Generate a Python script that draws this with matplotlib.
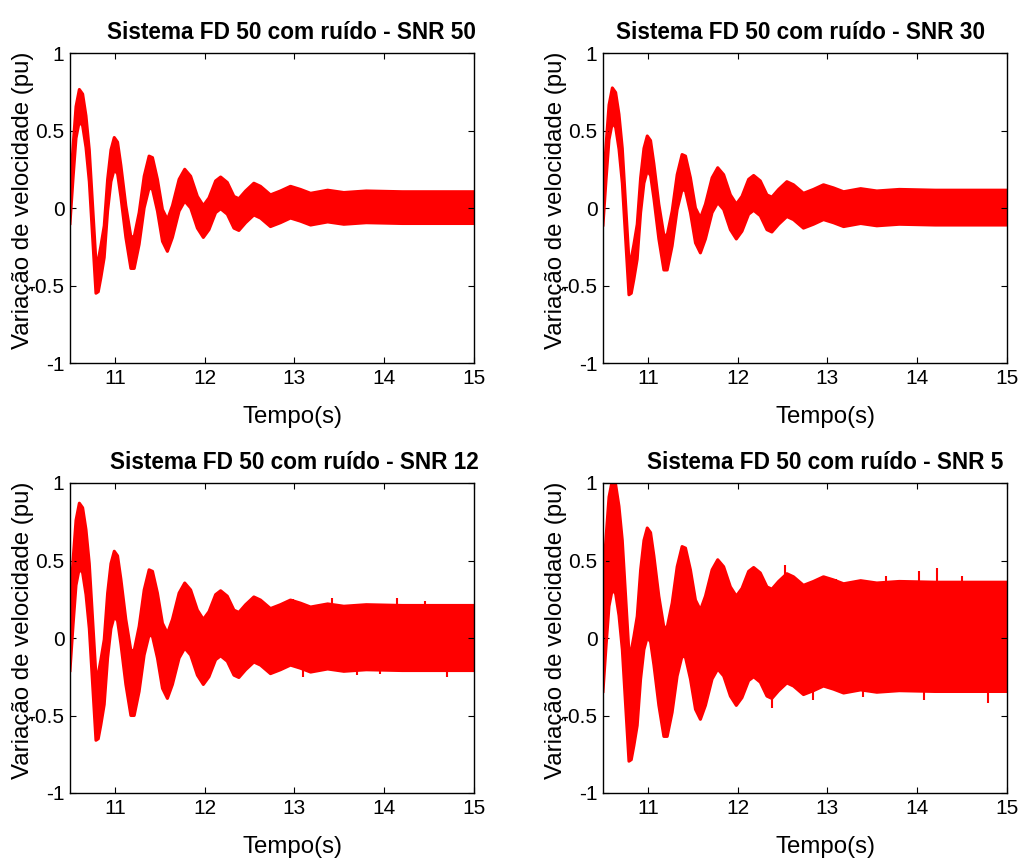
import matplotlib
matplotlib.use("Agg")
import matplotlib.pyplot as plt
import numpy as np

plt.rcParams['font.family'] = ['Liberation Sans', 'DejaVu Sans']

# slow (electromechanical) swing, centre of the red band
t_swing = [10.500, 10.535, 10.567, 10.604, 10.641, 10.678, 10.715, 10.752, 10.789, 10.815,
           10.844, 10.881, 10.919, 10.956, 10.993, 11.030, 11.067, 11.122, 11.178, 11.215,
           11.270, 11.326, 11.381, 11.419, 11.474, 11.530, 11.585, 11.641, 11.715, 11.778,
           11.844, 11.919, 11.985, 12.048, 12.122, 12.178, 12.252, 12.326, 12.381, 12.456,
           12.548, 12.622, 12.733, 12.844, 12.956, 13.067, 13.180, 13.370, 13.550, 13.800,
           14.200, 14.600, 15.000]
v_swing = [0.00, 0.30, 0.55, 0.66, 0.63, 0.49, 0.27, -0.09, -0.45, -0.44,
           -0.35, -0.22, 0.08, 0.27, 0.35, 0.32, 0.17, -0.09, -0.29, -0.29,
           -0.135, 0.10, 0.23, 0.22, 0.08, -0.115, -0.18, -0.09, 0.08, 0.145,
           0.10, -0.03, -0.09, -0.04, 0.07, 0.095, 0.06, -0.03, -0.045, 0.005,
           0.055, 0.035, -0.02, 0.005, 0.035, 0.015, -0.01, 0.01, -0.005, 0.005,
           0.0, 0.0, 0.0]

# half-height of the fast oscillation + noise band (above, below the swing) per SNR
snr_labels = ['50', '30', '12', '5']
band_up = [0.105, 0.115, 0.21, 0.36]
band_lo = [0.100, 0.110, 0.21, 0.345]

# the larger noise spikes sticking out of the band (time, value)
spike_t_snr12 = [12.98, 13.09, 13.42, 13.95, 14.14, 14.70, 14.45, 13.70]
spike_v_snr12 = [0.25, -0.25, 0.255, -0.235, 0.26, -0.25, 0.24, -0.24]
spike_t_snr5 = [12.38, 12.53, 12.84, 13.10, 13.40, 13.65, 14.02, 14.07, 14.22, 14.50, 14.79]
spike_v_snr5 = [-0.45, 0.47, -0.40, 0.38, -0.38, 0.40, 0.43, -0.40, 0.45, 0.40, -0.42]
spikes = [([], []), ([], []), (spike_t_snr12, spike_v_snr12), (spike_t_snr5, spike_v_snr5)]

x_ticks = [11, 12, 13, 14, 15]
y_ticks = [-1, -0.5, 0, 0.5, 1]
y_tick_labels = ['-1', '-0.5', '0', '0.5', '1']

fig = plt.figure(figsize=(10.22, 8.59), dpi=100)
W, H = 1022, 859
boxes = [(70, 53), (603, 53), (70, 483), (603, 483)]
title_x = [0.548, 0.49, 0.555, 0.55]

v = np.array(v_swing)
for i in range(4):
    left, top = boxes[i]
    ax = fig.add_axes([left / W, 1 - (top + 310) / H, 404 / W, 310 / H])
    up = v + band_up[i]
    lo = v - band_lo[i]
    ax.fill_between(t_swing, lo, up, color='red', lw=0)
    ax.plot(t_swing, up, color='red', lw=2.2, solid_joinstyle='round')
    ax.plot(t_swing, lo, color='red', lw=2.2, solid_joinstyle='round')
    st, sv = spikes[i]
    if st:
        ax.vlines(st, 0, sv, color='red', lw=1.5)
    ax.set_xlim(10.5, 15)
    ax.set_ylim(-1, 1)
    ax.set_xticks(x_ticks)
    ax.set_yticks(y_ticks)
    ax.set_yticklabels(y_tick_labels)
    ax.tick_params(direction='in', length=4, width=0.8, top=True, right=True,
                   labelsize=15, pad=4)
    ax.set_xlabel('Tempo(s)', fontsize=17.3)
    ax.xaxis.set_label_coords(0.55, -0.14)
    ax.set_ylabel('Variação de velocidade (pu)', fontsize=17.3)
    ax.yaxis.set_label_coords(-0.089, 0.526)
    ttl = ax.set_title('Sistema FD 50 com ruído - SNR ' + snr_labels[i],
                       fontsize=16.3, fontweight='bold', pad=10)
    ttl.set_x(title_x[i])
    for s in ax.spines.values():
        s.set_linewidth(1.0)

fig.savefig('out.png', dpi=100)
